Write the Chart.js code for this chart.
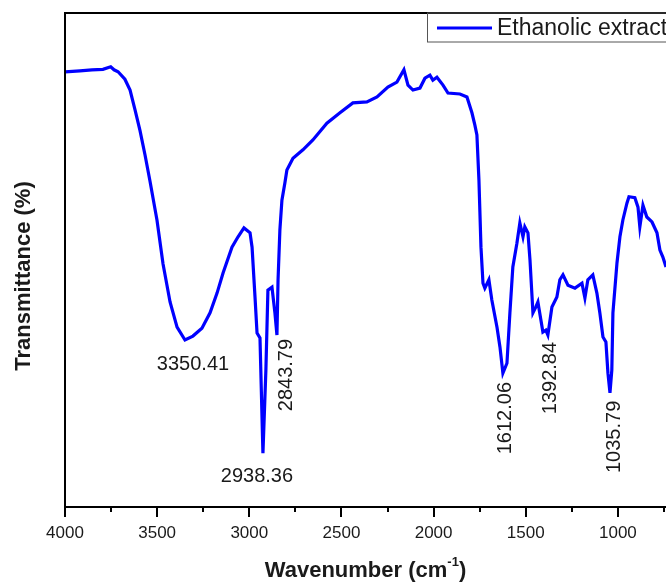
<!DOCTYPE html>
<html>
<head>
<meta charset="utf-8">
<script src="https://cdn.jsdelivr.net/npm/chart.js@4.4.0/dist/chart.umd.min.js"></script>
<style>
  body { margin: 0; background: #fff; }
  #caixa { width: 666px; height: 583px; }
</style>
</head>
<body>
<div id="caixa"><canvas id="meuGrafico" width="666" height="583"></canvas></div>
<script>
// espectro FTIR (numero de onda em cm-1, transmitancia em unidades relativas)
let numeroDeOnda = [
  4000, 3919, 3854, 3794, 3752, 3734, 3712, 3675, 3647, 3620, 3593, 3566, 3539, 3501, 3468,
  3430, 3392, 3349, 3306, 3257, 3213, 3175, 3142, 3094, 3061, 3029, 2996, 2985, 2969, 2958,
  2942, 2926, 2910, 2899, 2877, 2861, 2850, 2844, 2834, 2823, 2807, 2796, 2763, 2709, 2655,
  2579, 2508, 2438, 2362, 2307, 2248, 2199, 2161, 2139, 2112, 2074, 2047, 2020, 2004, 1982,
  1949, 1922, 1857, 1819, 1792, 1776, 1765, 1754, 1743, 1732, 1722, 1700, 1684, 1656, 1640,
  1624, 1602, 1586, 1570, 1548, 1532, 1515, 1505, 1488, 1477, 1461, 1445, 1434, 1418, 1407,
  1391, 1380, 1358, 1331, 1315, 1298, 1271, 1233, 1195, 1179, 1163, 1136, 1114, 1098, 1081,
  1065, 1054, 1043, 1033, 1027, 1005, 989, 973, 951, 940, 908, 891, 881, 864, 843,
  815, 788, 772, 756, 739
];
let transmitancia = [
  88.1, 88.3, 88.5, 88.6, 89.1, 88.5, 88.1, 86.6, 84.4, 80.4, 76.2, 71.3, 66.0, 58.1, 49.2,
  41.5, 36.4, 33.8, 34.6, 36.2, 39.3, 43.3, 47.4, 52.6, 54.7, 56.5, 55.5, 52.6, 42.5, 35.2,
  34.2, 10.9, 27.7, 43.9, 44.5, 39.3, 34.8, 46.0, 56.1, 62.1, 65.6, 68.2, 70.6, 72.3, 74.3,
  77.7, 79.8, 81.8, 82.0, 83.0, 85.0, 86.0, 88.5, 85.4, 84.4, 84.8, 86.8, 87.4, 86.4, 87.0,
  85.4, 83.8, 83.6, 83.0, 79.8, 77.3, 75.3, 66.2, 52.6, 45.3, 44.3, 46.0, 41.9, 36.4, 32.4,
  27.1, 29.1, 39.3, 48.6, 53.4, 57.5, 54.7, 56.7, 55.5, 50.0, 39.3, 40.5, 41.5, 37.9, 35.4,
  35.8, 34.8, 40.5, 42.5, 46.0, 47.0, 44.9, 44.3, 45.3, 42.3, 46.0, 47.0, 43.3, 39.3, 34.4,
  33.4, 27.1, 23.1, 27.7, 39.3, 49.4, 54.7, 58.1, 61.5, 62.8, 62.6, 60.7, 56.7, 61.1, 58.7,
  57.7, 55.5, 52.0, 50.6, 48.6
];

let marcasPrincipais = [4000, 3500, 3000, 2500, 2000, 1500, 1000];
let marcasSecundarias = [3750, 3250, 2750, 2250, 1750, 1250, 750];

let rotulosPicos = ['3350.41', '2938.36', '2843.79', '1612.06', '1392.84', '1035.79'];
let posicaoPicos = [3349, 2926, 2850, 1624, 1380, 1043];

let nomeSerie = 'Ethanolic extract';

var fonte = '"Liberation Sans", Arial, sans-serif';

// desenha moldura, marcas, rotulos dos picos, legenda e titulos
var enfeites = {
  id: 'enfeites',
  afterDraw: function (chart) {
    var ctx = chart.ctx;
    var area = chart.chartArea;
    var eixoX = chart.scales.x;
    var eixoY = chart.scales.y;

    ctx.save();
    ctx.strokeStyle = '#000';
    ctx.lineWidth = 2;
    ctx.beginPath();
    ctx.moveTo(area.right, area.top);
    ctx.lineTo(area.left, area.top);
    ctx.lineTo(area.left, area.bottom);
    ctx.lineTo(area.right, area.bottom);
    ctx.stroke();

    // marcas do eixo x
    marcasPrincipais.forEach(function (v) {
      var px = Math.round(eixoX.getPixelForValue(v));
      ctx.beginPath();
      ctx.moveTo(px, area.bottom);
      ctx.lineTo(px, area.bottom + 10);
      ctx.stroke();
    });
    marcasSecundarias.forEach(function (v) {
      var px = Math.round(eixoX.getPixelForValue(v));
      ctx.beginPath();
      ctx.moveTo(px, area.bottom);
      ctx.lineTo(px, area.bottom + 5);
      ctx.stroke();
    });

    // rotulos dos picos
    var ajustes = [
      { dx: 8, dy: 23, gira: false },
      { dx: -6, dy: 22, gira: false },
      { dx: 9, dy: 40, gira: true },
      { dx: 2, dy: 45, gira: true },
      { dx: 2, dy: 43, gira: true },
      { dx: 4, dy: 44, gira: true }
    ];
    ctx.fillStyle = '#1a1a1a';
    ctx.font = '20px ' + fonte;
    ctx.textAlign = 'center';
    ctx.textBaseline = 'middle';
    rotulosPicos.forEach(function (texto, i) {
      var idx = numeroDeOnda.indexOf(posicaoPicos[i]);
      var px = eixoX.getPixelForValue(numeroDeOnda[idx]) + ajustes[i].dx;
      var py = eixoY.getPixelForValue(transmitancia[idx]) + ajustes[i].dy;
      ctx.save();
      ctx.translate(px, py);
      if (ajustes[i].gira) ctx.rotate(-Math.PI / 2);
      ctx.fillText(texto, 0, 1);
      ctx.restore();
    });

    // legenda
    ctx.lineWidth = 1;
    ctx.strokeStyle = '#555';
    ctx.strokeRect(427.5, area.top, 300, 29);
    ctx.strokeStyle = '#0000ff';
    ctx.lineWidth = 3;
    ctx.beginPath();
    ctx.moveTo(437, 28);
    ctx.lineTo(492, 28);
    ctx.stroke();
    ctx.font = '23px ' + fonte;
    ctx.textAlign = 'left';
    ctx.fillText(nomeSerie, 497, 29);

    // titulo do eixo x com expoente
    var t1 = 'Wavenumber (cm';
    var t2 = '-1';
    var t3 = ')';
    ctx.font = 'bold 22px ' + fonte;
    var w1 = ctx.measureText(t1).width;
    var w3 = ctx.measureText(t3).width;
    ctx.font = 'bold 13px ' + fonte;
    var w2 = ctx.measureText(t2).width;
    var inicio = (area.left + area.right) / 2 - (w1 + w2 + w3) / 2;
    ctx.textBaseline = 'alphabetic';
    ctx.font = 'bold 22px ' + fonte;
    ctx.fillText(t1, inicio, 577);
    ctx.fillText(t3, inicio + w1 + w2, 577);
    ctx.font = 'bold 13px ' + fonte;
    ctx.fillText(t2, inicio + w1, 566);

    // titulo do eixo y
    ctx.save();
    ctx.translate(24, 276);
    ctx.rotate(-Math.PI / 2);
    ctx.font = 'bold 22px ' + fonte;
    ctx.textAlign = 'center';
    ctx.textBaseline = 'middle';
    ctx.fillText('Transmittance (%)', 0, 0);
    ctx.restore();

    ctx.restore();
  }
};

function desenharGrafico() {
  var canvas = document.getElementById('meuGrafico');
  var ctx = canvas.getContext('2d');

  var pontos = numeroDeOnda.map(function (w, i) {
    return { x: w, y: transmitancia[i] };
  });

  new Chart(ctx, {
    type: 'line',
    data: {
      datasets: [{
        label: nomeSerie,
        data: pontos,
        borderColor: '#0000ff',
        borderWidth: 3.2,
        pointRadius: 0,
        tension: 0,
        fill: false
      }]
    },
    options: {
      responsive: false,
      animation: false,
      events: [],
      layout: { padding: { left: 65, top: 13, right: 0, bottom: 0 } },
      plugins: { legend: { display: false }, tooltip: { enabled: false } },
      scales: {
        x: {
          type: 'linear',
          reverse: true,
          min: 739,
          max: 4000,
          afterBuildTicks: function (scale) {
            scale.ticks = marcasPrincipais.concat(marcasSecundarias)
              .sort(function (a, b) { return a - b; })
              .map(function (v) { return { value: v }; });
          },
          afterFit: function (scale) { scale.height = 76; },
          grid: { display: false, drawTicks: false },
          border: { display: false },
          ticks: {
            autoSkip: false,
            maxRotation: 0,
            padding: 16,
            color: '#1a1a1a',
            font: { family: fonte, size: 17 },
            callback: function (v) {
              return marcasPrincipais.indexOf(v) >= 0 ? String(v) : '';
            }
          }
        },
        y: {
          display: false,
          min: 0,
          max: 100
        }
      }
    },
    plugins: [enfeites]
  });
}

desenharGrafico();
</script>
</body>
</html>
